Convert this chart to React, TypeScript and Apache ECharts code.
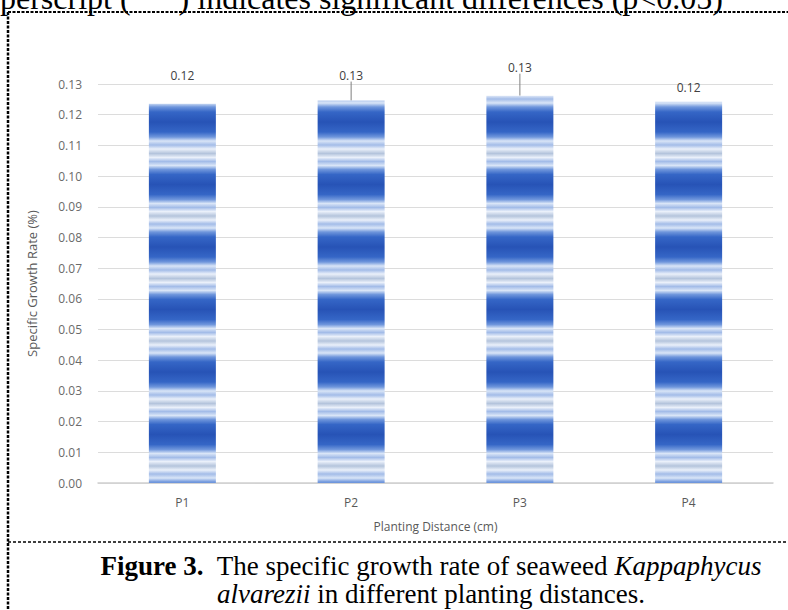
import React, { useEffect, useRef } from "react";
import * as echarts from "echarts";

const categories = ["P1", "P2", "P3", "P4"];
const growthRates = [0.1236, 0.1246, 0.1262, 0.1242];
const valueLabels = ["0.12", "0.13", "0.13", "0.12"];
const showLeader = [false, true, true, false];
const yMax = 0.13;
const yStep = 0.01;

const LABEL_DY = [-17, -14, -17, -3];

const GRID_TOP = 84;
const GRID_BOTTOM_Y = 483;

function stripeGradient() {
  // repeating horizontal stripe texture (style only)
  const period = 62.5;
  const firstDark = 122 - period * 2;
  const span = GRID_BOTTOM_Y - GRID_TOP;
  const profile: [number, string][] = [
    [-31, "#b4c4dc"],
    [-27, "#eaf0fa"],
    [-23, "#a3bce8"],
    [-19, "#d9e5f7"],
    [-15, "#6f96dc"],
    [-10, "#3566c6"],
    [0, "#2753b6"],
    [10, "#3566c6"],
    [15, "#6f96dc"],
    [19, "#d9e5f7"],
    [23, "#a3bce8"],
    [27, "#eaf0fa"],
  ];
  const stops: { offset: number; color: string }[] = [];
  for (let c = firstDark; c < GRID_BOTTOM_Y + period * 2; c += period) {
    for (const [d, col] of profile) {
      const y = c + d;
      const off = (y - GRID_TOP) / span;
      if (off >= 0 && off <= 1) stops.push({ offset: off, color: col });
    }
  }
  return new echarts.graphic.LinearGradient(0, GRID_TOP, 0, GRID_BOTTOM_Y, stops, true);
}

export default function App() {
  const ref = useRef<HTMLDivElement>(null);
  useEffect(() => {
    document.body.style.margin = "0";
    const chart = echarts.init(ref.current!, null, { renderer: "svg" });
    const grad = stripeGradient();
    const axisFont = "'Open Sans', 'Liberation Sans', sans-serif";
    chart.setOption({
      animation: false,
      backgroundColor: "#ffffff",
      grid: { left: 98, right: 15, top: GRID_TOP, bottom: 610 - GRID_BOTTOM_Y },
      xAxis: {
        type: "category",
        data: categories,
        axisLine: { lineStyle: { color: "#cfcfcf", width: 1.5 } },
        axisTick: { show: false },
        axisLabel: { color: "#595959", fontSize: 12, margin: 13, fontFamily: axisFont },
        name: "Planting Distance (cm)",
        nameLocation: "middle",
        nameGap: 37,
        nameTextStyle: { color: "#595959", fontSize: 12, fontFamily: axisFont },
      },
      yAxis: {
        type: "value",
        min: 0,
        max: yMax,
        interval: yStep,
        axisLine: { show: false },
        axisTick: { show: false },
        splitLine: { lineStyle: { color: "#dcdcdc", width: 1 } },
        axisLabel: {
          color: "#6a6a6a",
          fontSize: 12,
          margin: 16,
          fontFamily: axisFont,
          formatter: (v: number) => v.toFixed(2),
        },
        name: "Specific Growth Rate (%)",
        nameLocation: "middle",
        nameGap: 60,
        nameTextStyle: { color: "#595959", fontSize: 13, fontFamily: axisFont },
      },
      series: [
        {
          type: "bar",
          barWidth: 67,
          data: growthRates.map((v, i) => ({
            value: v,
            labelLine: { show: showLeader[i] },
          })),
          itemStyle: { color: grad },
          label: {
            show: true,
            position: "top",
            distance: 5,
            color: "#404040",
            fontSize: 12,
            fontFamily: axisFont,
            formatter: (p: any) => valueLabels[p.dataIndex],
          },
          labelLayout: (p: any) => ({ dy: LABEL_DY[p.dataIndex] }),
          labelLine: { show: true, lineStyle: { color: "#7f7f7f", width: 1 } },
        },
      ],
      graphic: [
        {
          type: "text",
          x: 0,
          y: -2,
          style: {
            text: "perscript (      ) indicates significant differences (p<0.05)",
            font: "32px 'Liberation Serif', serif",
            fill: "#000",
            verticalAlign: "middle",
          },
        },
        {
          type: "line",
          shape: { x1: 8, y1: 12, x2: 788, y2: 12 },
          style: { stroke: "#000", lineWidth: 2, lineDash: [3, 1.5] },
        },
        {
          type: "line",
          shape: { x1: 8, y1: 12, x2: 8, y2: 610 },
          style: { stroke: "#000", lineWidth: 2.5, lineDash: [3, 1.5] },
        },
        {
          type: "line",
          shape: { x1: 8, y1: 542, x2: 788, y2: 542 },
          style: { stroke: "#000", lineWidth: 1.5, lineDash: [3, 2] },
        },
        {
          type: "text",
          x: 431,
          y: 566,
          style: {
            text: "{b|Figure 3.}  The specific growth rate of seaweed {i|Kappaphycus}",
            font: "27px 'Liberation Serif', serif",
            fill: "#000",
            align: "center",
            verticalAlign: "middle",
            rich: {
              b: { font: "bold 27px 'Liberation Serif', serif", fill: "#000" },
              i: { font: "italic 27px 'Liberation Serif', serif", fill: "#000" },
            },
          },
        },
        {
          type: "text",
          x: 431,
          y: 594,
          style: {
            text: "{i|alvarezii} in different planting distances.",
            font: "27px 'Liberation Serif', serif",
            fill: "#000",
            align: "center",
            verticalAlign: "middle",
            rich: {
              i: { font: "italic 27px 'Liberation Serif', serif", fill: "#000" },
            },
          },
        },
      ],
    });
    return () => chart.dispose();
  }, []);
  return <div ref={ref} style={{ width: 788, height: 610 }} />;
}
